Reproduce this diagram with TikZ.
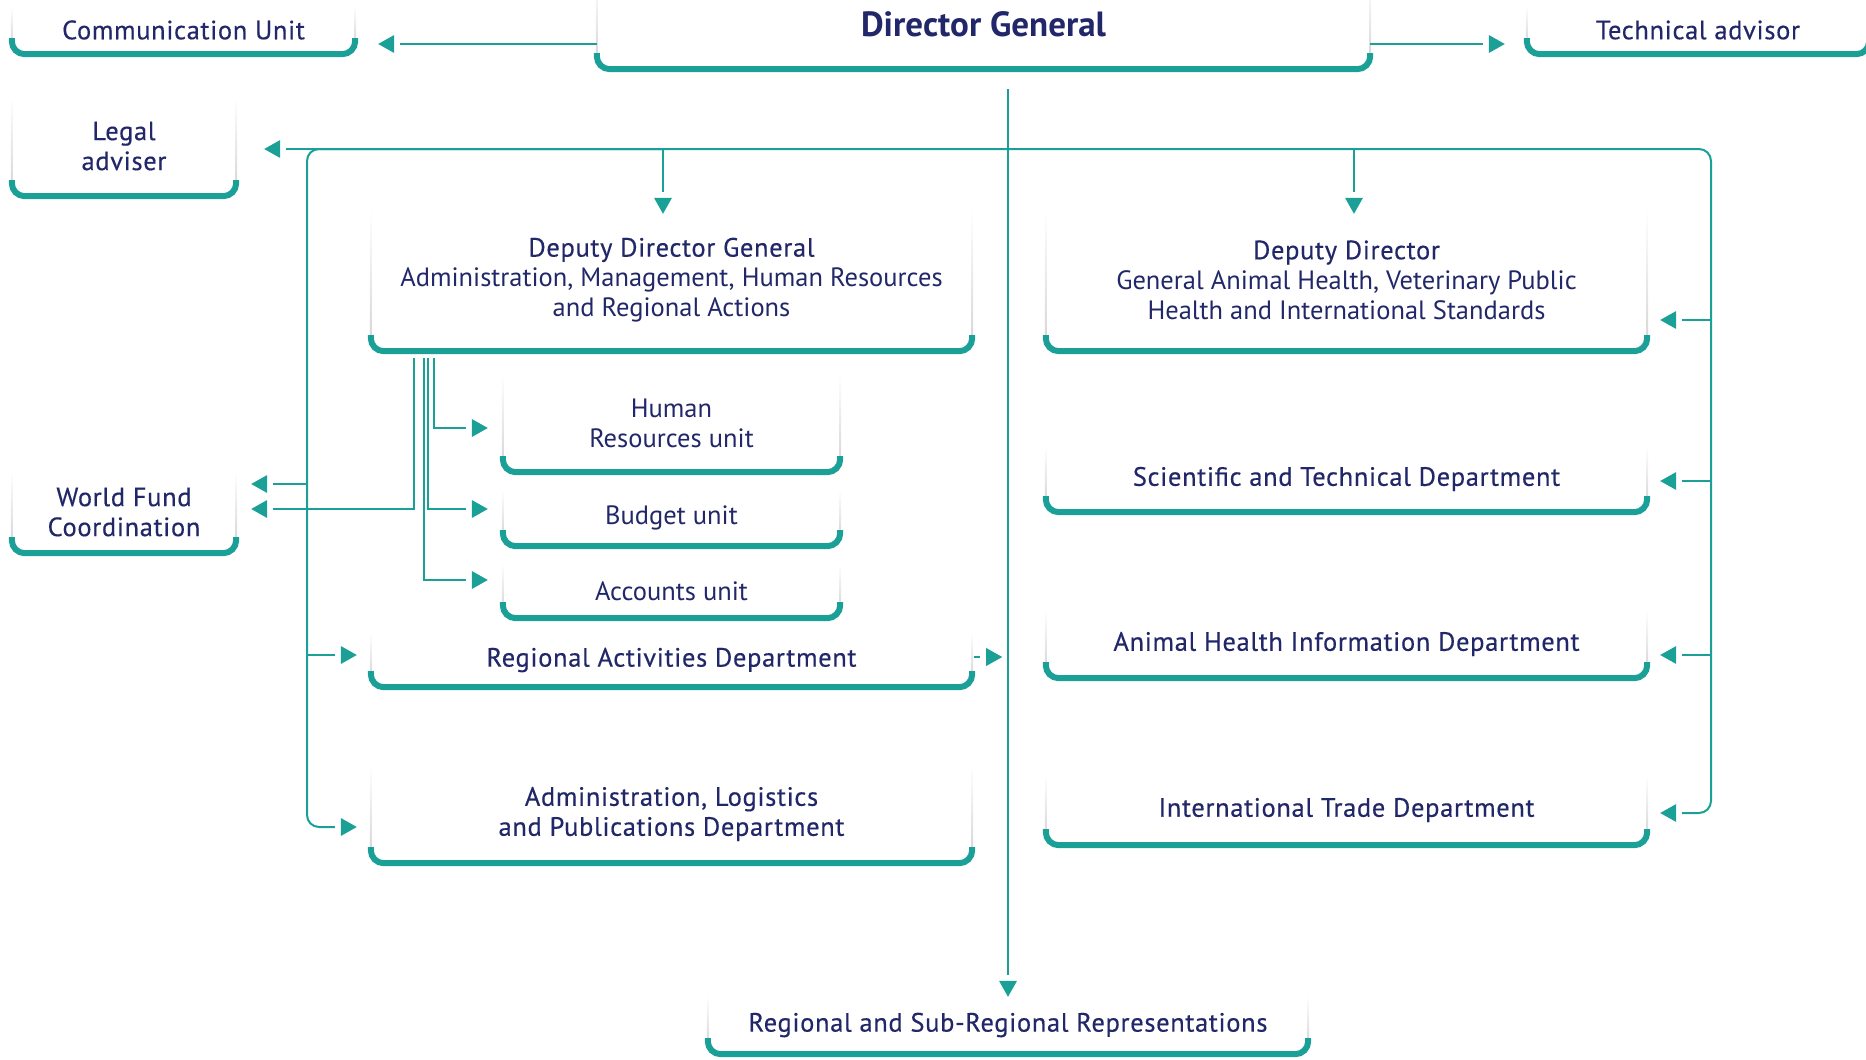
\documentclass[tikz,border=0pt]{standalone}
\usepackage{fontspec}
\setmainfont{PT Sans}
\newfontfamily\headfont{PT Sans}[FakeBold=0.4, LetterSpace=2.5]
\usetikzlibrary{arrows.meta, decorations.markings}
\definecolor{oieteal}{RGB}{26,160,150}
\definecolor{oieink}{RGB}{33,39,104}

\tikzset{
    unitbox/.style={align=center, text=oieink, inner sep=0pt, font=\fontsize{26.5}{30}\selectfont},
    mainbox/.style={unitbox, font=\headfont\fontsize{26.5}{30}\selectfont},
    bar/.style={draw=oieteal, line width=6pt, rounded corners=13pt},
    link/.style={draw=oieteal, line width=2pt},
    arr/.style={link, shorten >=22pt,
        postaction={decorate, decoration={markings, mark=at position 1 with {
            \fill[oieteal, shorten >=0pt] (0pt,0pt) -- (-16pt,9pt) -- (-16pt,-9pt) -- cycle;}}}},
}

\begin{document}
\begin{tikzpicture}[x=1pt, y=-1pt]
    \useasboundingbox (0,0) rectangle (1866,1060);

    % boxes
    \node[mainbox, minimum width=343pt, minimum height=48pt] (comm) at (183.5,30) {Communication Unit};
    \node[unitbox, minimum width=773pt, minimum height=90pt, font=\fontsize{35}{40}\selectfont\bfseries] (dg) at (983.5,24) {Director General};
    \node[mainbox, minimum width=342pt, minimum height=48pt] (tech) at (1698,30) {Technical advisor};
    \node[mainbox, minimum width=224pt, minimum height=100pt] (legal) at (124,146) {Legal\\adviser};
    \node[mainbox, minimum width=224pt, minimum height=82pt] (wfc) at (124,512) {World Fund\\Coordination};
    \node[unitbox, minimum width=601pt, minimum height=142pt] (ddg) at (671.5,280) {{\headfont Deputy Director General}\\Administration, Management, Human Resources\\and Regional Actions};
    \node[unitbox, minimum width=601pt, minimum height=142pt] (dd) at (1346.5,280) {{\headfont Deputy Director}\\General Animal Health, Veterinary Public\\Health and International Standards};
    \node[unitbox, minimum width=337pt, minimum height=98pt] (hr) at (671.5,423) {Human\\Resources unit};
    \node[unitbox, minimum width=337pt, minimum height=56pt] (budget) at (671.5,518) {Budget unit};
    \node[unitbox, minimum width=337pt, minimum height=54pt] (accounts) at (671.5,591) {Accounts unit};
    \node[mainbox, minimum width=601pt, minimum height=54pt] (rad) at (671.5,660) {Regional Activities Department};
    \node[mainbox, minimum width=601pt, minimum height=98pt] (alp) at (671.5,814) {Administration, Logistics\\and Publications Department};
    \node[mainbox, minimum width=601pt, minimum height=66pt] (sci) at (1346.5,479) {Scientific and Technical Department};
    \node[mainbox, minimum width=601pt, minimum height=68pt] (ahi) at (1346.5,644) {Animal Health Information Department};
    \node[mainbox, minimum width=601pt, minimum height=70pt] (itd) at (1346.5,810) {International Trade Department};
    \node[mainbox, minimum width=600pt, minimum height=58pt] (rsr) at (1008,1025) {Regional and Sub-Regional Representations};

    % faded sides and teal bottom bar
    \foreach \n in {comm,dg,tech,legal,wfc,ddg,dd,hr,budget,accounts,rad,alp,sci,ahi,itd,rsr} {
        \shade[top color=white, bottom color=black!16] ([xshift=-1pt]\n.north west) rectangle ([xshift=1pt,yshift=10pt]\n.south west);
        \shade[top color=white, bottom color=black!16] ([xshift=-1pt]\n.north east) rectangle ([xshift=1pt,yshift=10pt]\n.south east);
        \draw[bar] ([yshift=16pt]\n.south west) -- (\n.south west) -- (\n.south east) -- ([yshift=16pt]\n.south east);
    }

    % where the arrows end
    \coordinate (commin) at ([xshift=23pt,yshift=-14pt]comm.east);
    \coordinate (techin) at ([xshift=-22pt,yshift=-14pt]tech.west);
    \coordinate (rsrin) at ([yshift=-1pt]rsr.north);
    \coordinate (legalin) at ([xshift=28pt,yshift=-3pt]legal.east);
    \coordinate (ddgin) at ([xshift=-8.5pt,yshift=-5pt]ddg.north);
    \coordinate (ddin) at ([xshift=7.5pt,yshift=-5pt]dd.north);
    \coordinate (wfin1) at ([xshift=15pt,yshift=28pt]wfc.east);
    \coordinate (wfin2) at ([xshift=15pt,yshift=3pt]wfc.east);
    \coordinate (hrin) at ([xshift=-15pt,yshift=-5pt]hr.west);
    \coordinate (budgetin) at ([xshift=-15pt,yshift=9pt]budget.west);
    \coordinate (accountsin) at ([xshift=-15pt,yshift=11pt]accounts.west);
    \coordinate (radin) at ([xshift=-14pt,yshift=5pt]rad.west);
    \coordinate (alpin) at ([xshift=-14pt,yshift=-13pt]alp.west);
    \coordinate (ddright) at ([xshift=13pt,yshift=-40pt]dd.east);
    \coordinate (sciin) at ([xshift=13pt,yshift=-2pt]sci.east);
    \coordinate (ahiin) at ([xshift=13pt,yshift=-11pt]ahi.east);
    \coordinate (itdin) at ([xshift=13pt,yshift=-3pt]itd.east);
    \coordinate (radout) at ([xshift=30pt,yshift=3pt]rad.east);

    % trunk and buses
    \coordinate (trunk) at ([xshift=24.5pt,yshift=-20pt]dg.south);
    \coordinate (busL) at (307,149);
    \coordinate (busR) at (1711,149);

    \draw[arr] ([yshift=-20pt]dg.west) -- (commin);
    \draw[arr] ([yshift=-20pt]dg.east) -- (techin);
    \draw[arr] (trunk) -- (rsrin);

    \draw[arr] (busL -| ddgin) -- (legalin);
    \draw[link, rounded corners=12pt, shorten >=22pt] (busL -| ddgin) -- (busL) |- (alpin);
    \draw[arr] ([xshift=-30pt]alpin) -- (alpin);
    \draw[link, rounded corners=12pt, shorten >=22pt] (busL) -- (busR) |- (itdin);
    \draw[arr] ([xshift=30pt]itdin) -- (itdin);
    \draw[arr] (busL -| ddgin) -- (ddgin);
    \draw[arr] (busL -| ddin) -- (ddin);

    \foreach \t in {wfin1,radin}
        \draw[arr] (busL |- \t) -- (\t);
    \foreach \t in {ddright,sciin,ahiin}
        \draw[arr] (busR |- \t) -- (\t);

    % deputy director general units
    \foreach \dx/\t in {43/wfin2,53/accountsin,57/budgetin,63/hrin}
        \draw[arr] ([xshift=\dx pt,yshift=-7pt]ddg.south west) |- (\t);

    \draw[arr, shorten <=2pt] ([yshift=3pt]rad.east) -- (radout);
\end{tikzpicture}
\end{document}
